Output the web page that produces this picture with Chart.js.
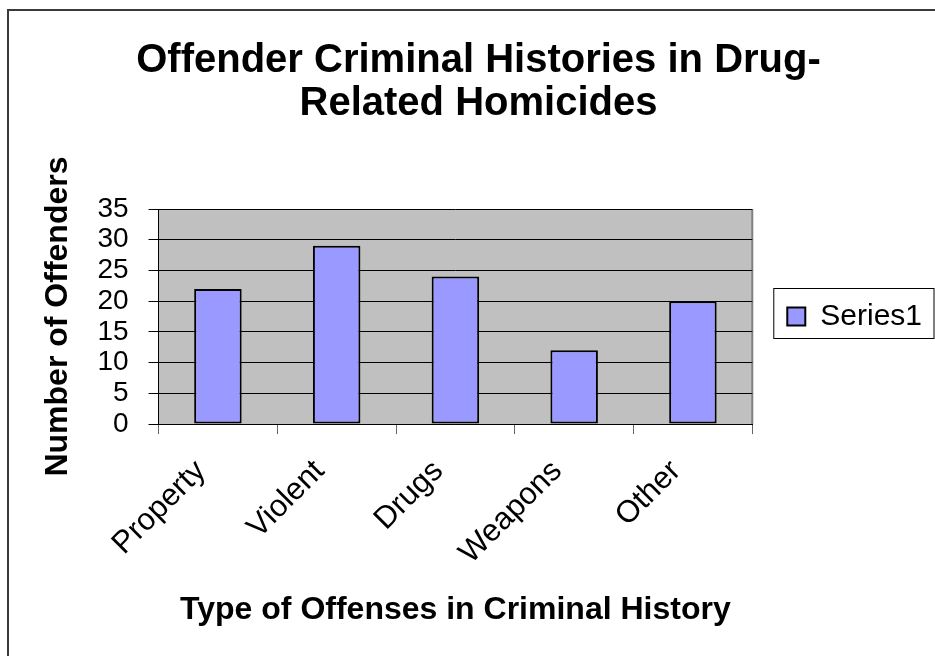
<!DOCTYPE html>
<html>
<head>
<meta charset="utf-8">
<script src="https://cdn.jsdelivr.net/npm/chart.js@4/dist/chart.umd.min.js"></script>
<style>
  html, body { margin: 0; padding: 0; background: #ffffff; }
  #wrap { width: 935px; height: 656px; position: relative; }
</style>
</head>
<body>
<div id="wrap"><canvas id="c"></canvas></div>
<script>
const categories = ['Property', 'Violent', 'Drugs', 'Weapons', 'Other'];
const offenders = [22, 29, 24, 12, 20];
const seriesName = 'Series1';
const chartTitle = ['Offender Criminal Histories in Drug-', 'Related Homicides'];
const xAxisTitle = 'Type of Offenses in Criminal History';
const yAxisTitle = 'Number of Offenders';
const yMin = 0, yMax = 35, yStep = 5;

const FONT = "'Liberation Sans', Arial, Helvetica, sans-serif";

const framePlugin = {
  id: 'frame',
  beforeDraw(chart) {
    const ctx = chart.ctx;
    const a = chart.chartArea;
    ctx.save();
    ctx.fillStyle = '#ffffff';
    ctx.fillRect(0, 0, chart.width, chart.height);
    // outer border (left and top visible)
    ctx.strokeStyle = '#3a3a3a';
    ctx.lineWidth = 2;
    ctx.beginPath();
    ctx.moveTo(8, chart.height + 5);
    ctx.lineTo(8, 10);
    ctx.lineTo(chart.width + 5, 10);
    ctx.stroke();
    // plot area background
    ctx.fillStyle = '#c0c0c0';
    ctx.fillRect(a.left, a.top, a.right - a.left, a.bottom - a.top);
    ctx.strokeStyle = '#808080';
    ctx.lineWidth = 2;
    ctx.beginPath();
    ctx.moveTo(a.right, a.top);
    ctx.lineTo(a.right, a.bottom);
    ctx.stroke();
    ctx.restore();
  },
  afterDraw(chart) {
    const ctx = chart.ctx;
    const a = chart.chartArea;
    const cy = (a.top + a.bottom) / 2;
    ctx.save();
    ctx.strokeStyle = '#000000';
    ctx.lineWidth = 1;
    ctx.strokeRect(a.right + 21.5, Math.round(cy - 29) + 0.5, 934 - (a.right + 21.5), 50);
    ctx.restore();
  }
};

new Chart(document.getElementById('c'), {
  type: 'bar',
  data: {
    labels: categories,
    datasets: [{
      label: seriesName,
      data: offenders,
      backgroundColor: '#9999ff',
      borderColor: '#000000',
      borderWidth: 2,
      borderSkipped: false,
      barPercentage: 0.4,
      categoryPercentage: 1.0
    }]
  },
  options: {
    responsive: true,
    maintainAspectRatio: false,
    animation: false,
    devicePixelRatio: 1,
    layout: { padding: { left: 25, right: 3, top: 0, bottom: 0 } },
    plugins: {
      title: {
        display: true,
        text: chartTitle,
        color: '#000000',
        font: { family: FONT, size: 40, weight: 'bold', lineHeight: 1.075 },
        padding: { top: 39, bottom: 84 }
      },
      legend: {
        display: true,
        position: 'right',
        fullSize: false,
        align: 'center',
        labels: {
          color: '#000000',
          boxWidth: 18,
          boxHeight: 18,
          padding: 35,
          font: { family: FONT, size: 30 }
        }
      },
      tooltip: { enabled: false }
    },
    scales: {
      x: {
        offset: true,
        grid: {
          display: true,
          drawOnChartArea: false,
          drawTicks: true,
          tickLength: 10,
          tickColor: '#666666',
          offset: true
        },
        border: { display: true, color: '#000000', width: 1 },
        ticks: {
          color: '#000000',
          font: { family: FONT, size: 31 },
          maxRotation: 45,
          minRotation: 45,
          autoSkip: false,
          padding: 19,
          labelOffset: -17
        },
        title: {
          display: true,
          text: xAxisTitle,
          color: '#000000',
          font: { family: FONT, size: 32, weight: 'bold', lineHeight: 1.2 },
          padding: { top: 0, bottom: 27 }
        }
      },
      y: {
        min: yMin,
        max: yMax,
        grid: {
          color: '#000000',
          lineWidth: 1,
          tickLength: 10,
          tickColor: '#000000'
        },
        border: { display: true, color: '#000000', width: 1 },
        ticks: {
          stepSize: yStep,
          autoSkip: false,
          color: '#000000',
          font: { family: FONT, size: 28 },
          padding: 20
        },
        title: {
          display: true,
          text: yAxisTitle,
          color: '#000000',
          font: { family: FONT, size: 32, weight: 'bold', lineHeight: 1.2 },
          padding: { top: 14, bottom: 0 }
        }
      }
    }
  },
  plugins: [framePlugin]
});
</script>
</body>
</html>
